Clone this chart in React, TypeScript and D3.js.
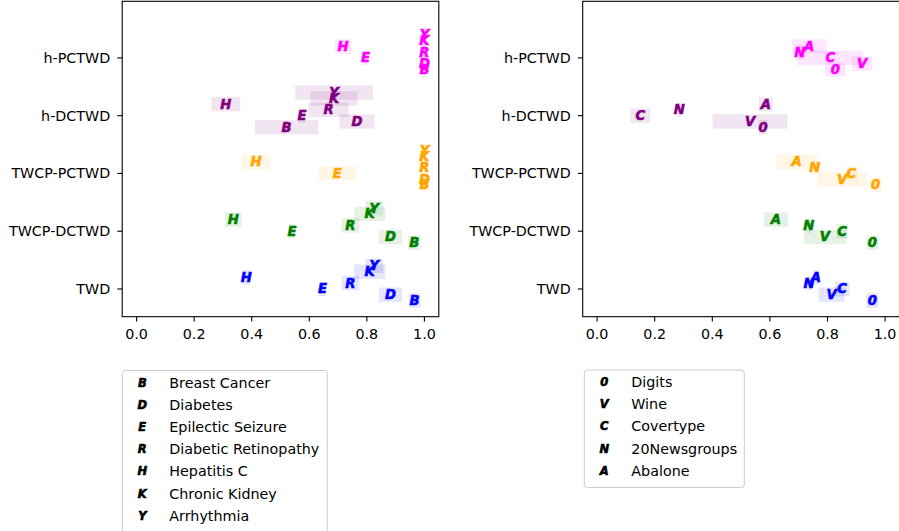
import React from 'react';
import * as d3 from 'd3';

// y categories, bottom to top
const methods = ['TWD', 'TWCP-DCTWD', 'TWCP-PCTWD', 'h-DCTWD', 'h-PCTWD'];
const methodColors = ['#0000ff', '#008000', '#ffa500', '#800080', '#ff00ff'];

// left panel datasets (legend order)
const leftKeys = ['B', 'D', 'E', 'R', 'H', 'K', 'Y'];
const leftNames = ['Breast Cancer', 'Diabetes', 'Epilectic Seizure', 'Diabetic Retinopathy', 'Hepatitis C', 'Chronic Kidney', 'Arrhythmia'];
// mean per method (rows) per dataset (cols)
const leftMeans = [
  [0.966, 0.882, 0.646, 0.743, 0.381, 0.81, 0.826],
  [0.965, 0.882, 0.54, 0.743, 0.336, 0.81, 0.826],
  [1.0, 1.0, 0.697, 1.0, 0.415, 1.0, 1.0],
  [0.521, 0.766, 0.575, 0.667, 0.31, 0.686, 0.686],
  [1.0, 1.0, 0.795, 1.0, 0.717, 1.0, 1.0],
];
const leftStd = [
  [0.02, 0.04, 0.013, 0.031, 0.013, 0.054, 0.031],
  [0.02, 0.04, 0.012, 0.031, 0.029, 0.054, 0.031],
  [0.006, 0.006, 0.064, 0.006, 0.049, 0.006, 0.006],
  [0.11, 0.061, 0.013, 0.07, 0.05, 0.082, 0.135],
  [0.006, 0.006, 0.012, 0.006, 0.028, 0.006, 0.006],
];

// right panel datasets
const rightKeys = ['0', 'V', 'C', 'N', 'A'];
const rightNames = ['Digits', 'Wine', 'Covertype', '20Newsgroups', 'Abalone'];
const rightMeans = [
  [0.956, 0.814, 0.851, 0.736, 0.76],
  [0.956, 0.791, 0.851, 0.735, 0.621],
  [0.967, 0.851, 0.883, 0.756, 0.693],
  [0.576, 0.531, 0.15, 0.285, 0.586],
  [0.827, 0.92, 0.81, 0.704, 0.736],
];
const rightStd = [
  [0.021, 0.045, 0.025, 0.008, 0.01],
  [0.021, 0.073, 0.02, 0.008, 0.042],
  [0.02, 0.085, 0.02, 0.01, 0.071],
  [0.015, 0.13, 0.035, 0.005, 0.024],
  [0.035, 0.035, 0.113, 0.015, 0.06],
];

const xTicks = [0, 0.2, 0.4, 0.6, 0.8, 1.0];
const FONT = 'DejaVu Sans, sans-serif';
const LABEL = 14.3;

const y = d3.scaleLinear().domain([-0.48, 4.98]).range([316.7, 1.3]);
const bandH = y(0) - y(0.25);

type PanelProps = {
  x0: number;
  x1: number;
  keys: string[];
  means: number[][];
  stds: number[][];
};

const Panel = ({ x0, x1, keys, means, stds }: PanelProps) => {
  const x = d3.scaleLinear().domain([-0.05, 1.05]).range([x0, x1]);
  const [yb, yt] = y.range();
  return (
    <g>
      {methods.map((m, mi) =>
        keys.map((k, di) => {
          const yc = y(mi + (di - 2) * 0.1);
          const mu = means[mi][di];
          const sd = stds[mi][di];
          return (
            <rect key={`r${mi}${k}`} x={x(mu - sd)} y={yc - bandH / 2}
              width={x(mu + sd) - x(mu - sd)} height={bandH}
              fill={methodColors[mi]} fillOpacity={0.1} />
          );
        })
      )}
      {methods.map((m, mi) =>
        keys.map((k, di) => (
          <text key={`t${mi}${k}`} x={x(means[mi][di])} y={y(mi + (di - 2) * 0.1)}
            fill={methodColors[mi]} stroke={methodColors[mi]} strokeWidth={0.6}
            fontFamily={FONT} fontWeight="bold" fontStyle="italic"
            fontSize={13.2} textAnchor="middle" dominantBaseline="central">{k}</text>
        ))
      )}
      <rect x={x0} y={yt} width={x1 - x0} height={yb - yt} fill="none" stroke="#000" strokeWidth={1.1} />
      {xTicks.map(t => (
        <g key={t}>
          <line x1={x(t)} x2={x(t)} y1={yb} y2={yb + 4.9} stroke="#000" strokeWidth={1.1} />
          <text x={x(t)} y={yb + 17} fontFamily={FONT} fontSize={LABEL} textAnchor="middle"
            dominantBaseline="central" fill="#000">{d3.format('.1f')(t)}</text>
        </g>
      ))}
      {methods.map((m, mi) => (
        <g key={m}>
          <line x1={x0 - 4.9} x2={x0} y1={y(mi)} y2={y(mi)} stroke="#000" strokeWidth={1.1} />
          <text x={x0 - 12} y={y(mi)} fontFamily={FONT} fontSize={LABEL} textAnchor="end"
            dominantBaseline="central" fill="#000">{m}</text>
        </g>
      ))}
    </g>
  );
};

type LegendProps = { x: number; y: number; w: number; keys: string[]; names: string[] };

const Legend = ({ x, y: top, w, keys, names }: LegendProps) => {
  const rowH = 22.2;
  const h = keys.length * rowH + 6.5;
  return (
    <g>
      <rect x={x} y={top} width={w} height={h} rx={3} fill="#fff" fillOpacity={0.8} stroke="#cccccc" strokeWidth={1} />
      {keys.map((k, i) => (
        <g key={k}>
          <text x={x + 20} y={top + 12 + i * rowH} fontFamily={FONT} fontWeight="bold" fontStyle="italic"
            fontSize={11.5} stroke="#000" strokeWidth={0.6}
            textAnchor="middle" dominantBaseline="central" fill="#000">{k}</text>
          <text x={x + 47} y={top + 12 + i * rowH} fontFamily={FONT} fontSize={LABEL}
            dominantBaseline="central" fill="#000">{names[i]}</text>
        </g>
      ))}
    </g>
  );
};

export default function App() {
  return (
    <svg width={899} height={531} style={{ position: 'absolute', left: 0, top: 0, background: '#fff' }}>
      <Panel x0={122.2} x1={438.8} keys={leftKeys} means={leftMeans} stds={leftStd} />
      <Panel x0={582.7} x1={899.5} keys={rightKeys} means={rightMeans} stds={rightStd} />
      <Legend x={122.3} y={370.5} w={205} keys={leftKeys} names={leftNames} />
      <Legend x={584.3} y={370} w={160} keys={rightKeys} names={rightNames} />
    </svg>
  );
}
